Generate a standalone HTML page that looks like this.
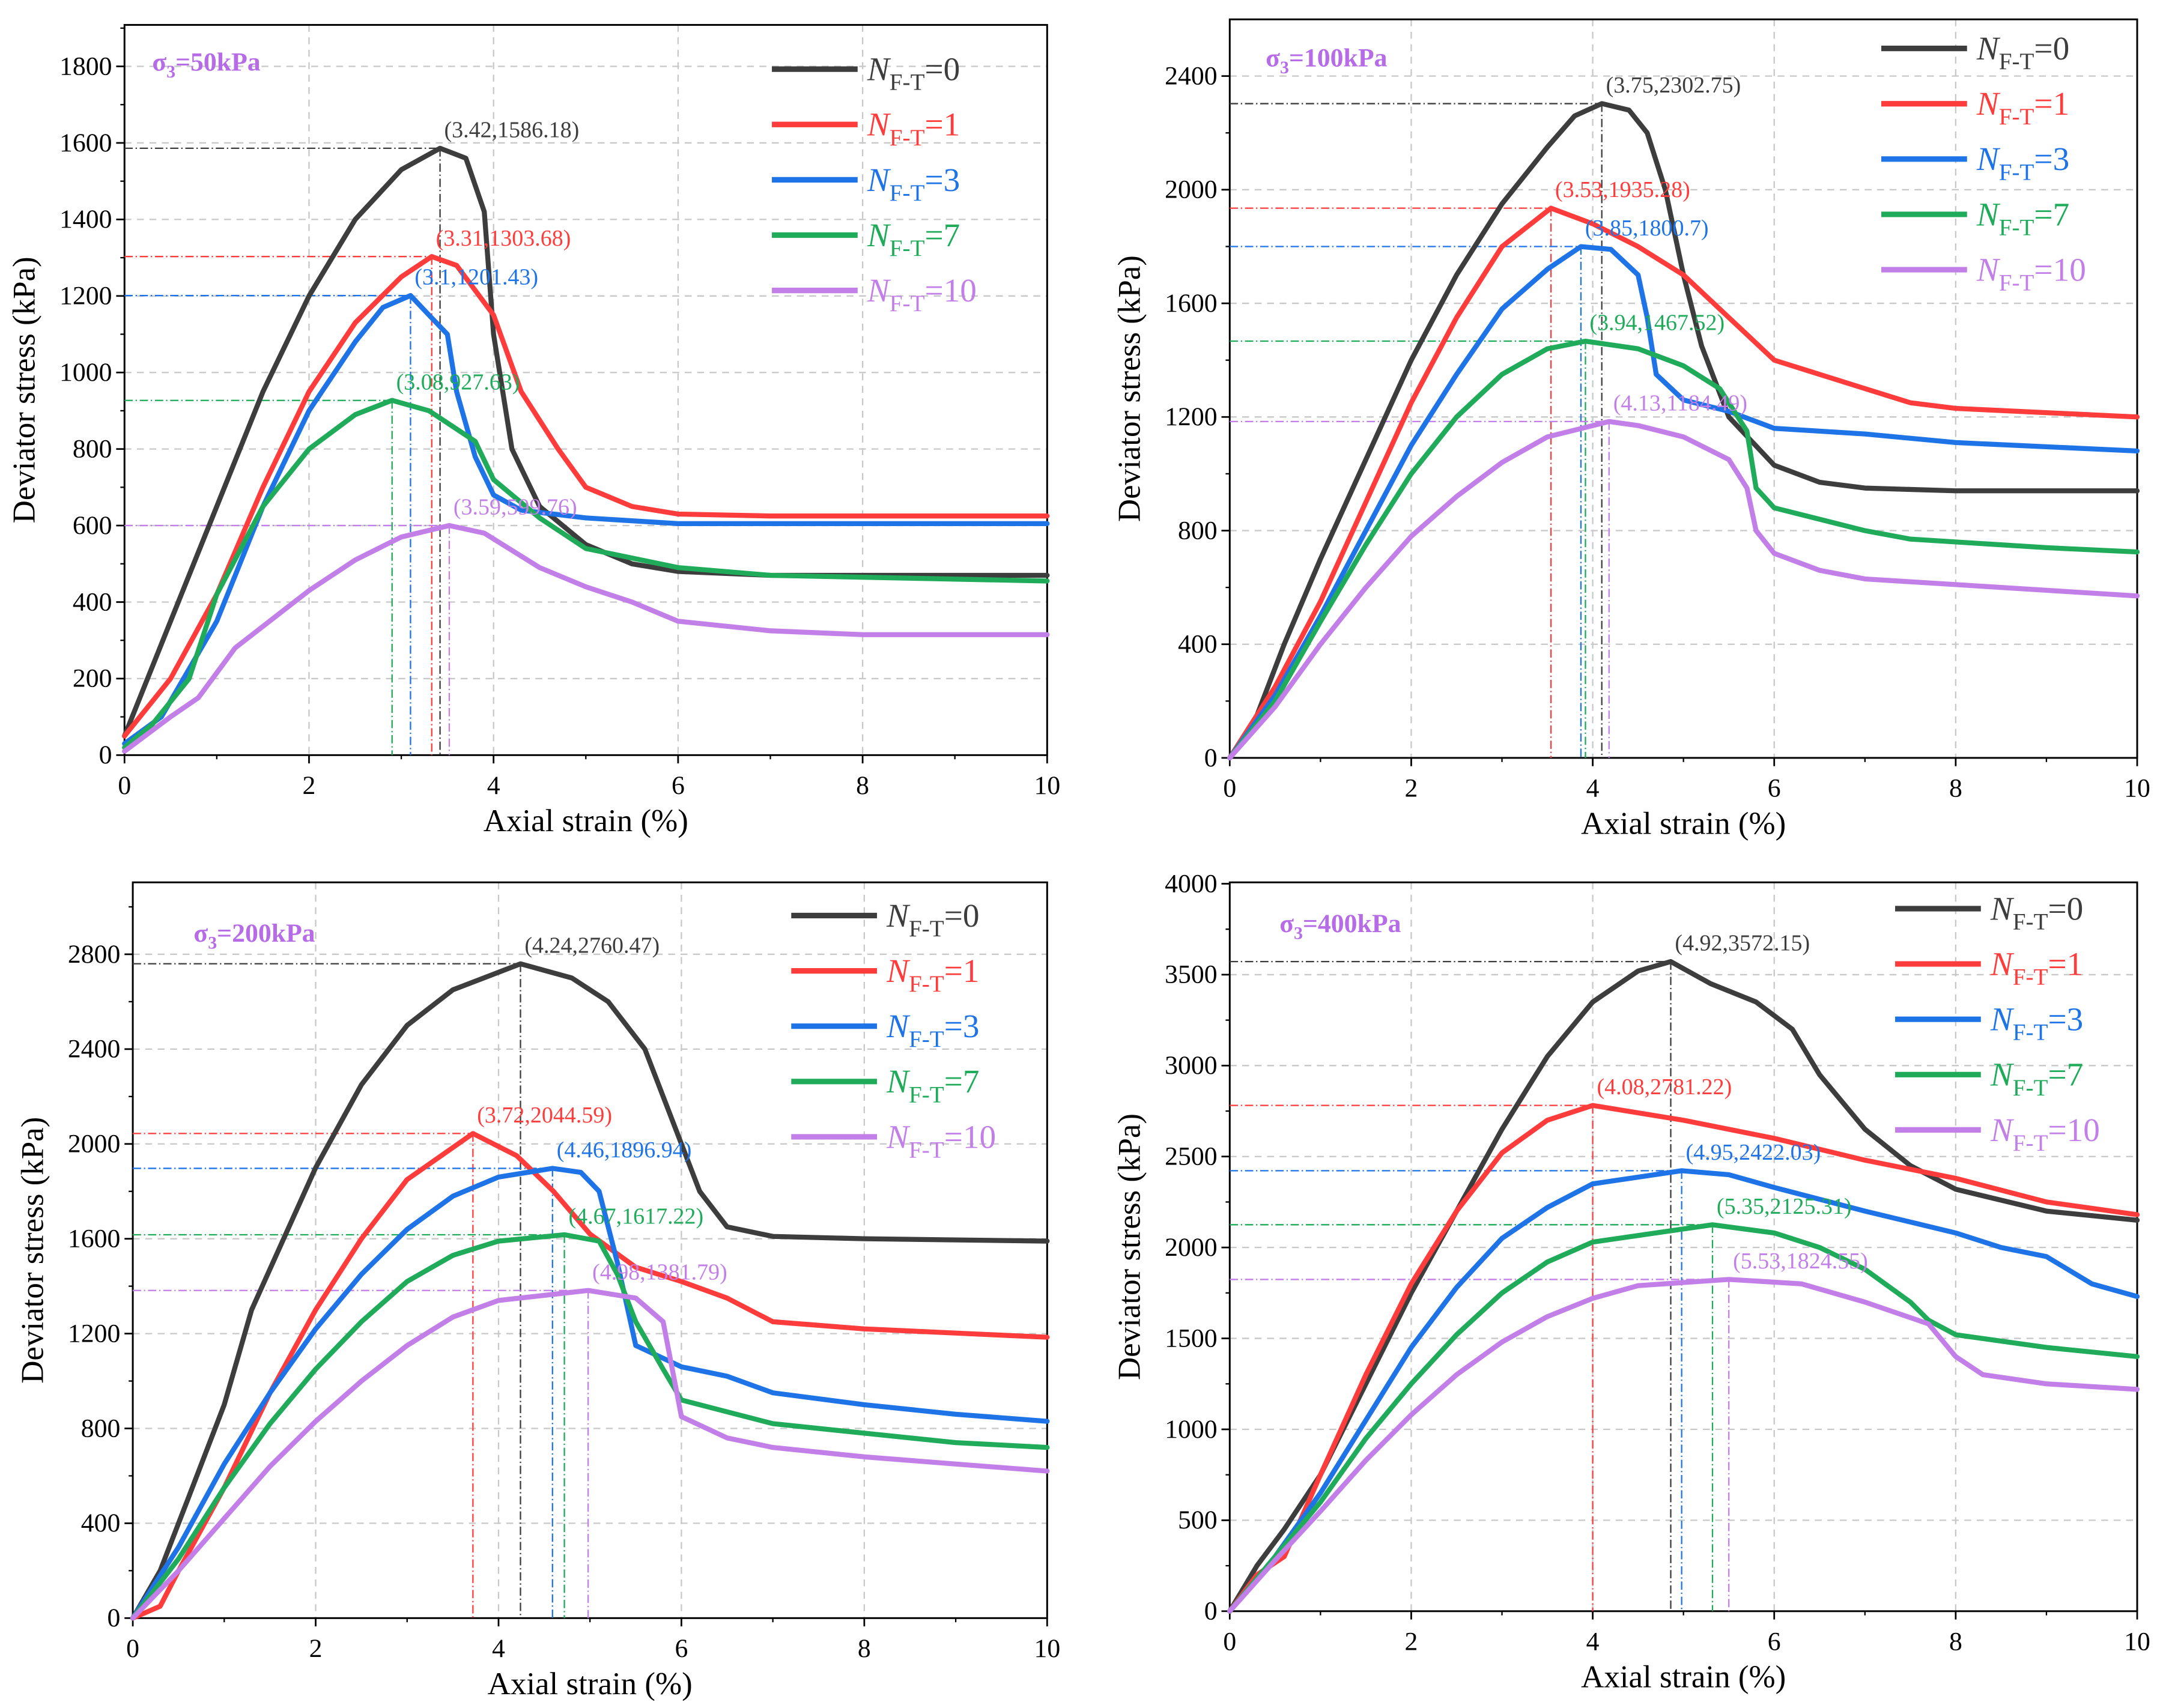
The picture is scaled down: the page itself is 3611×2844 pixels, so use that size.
<!DOCTYPE html>
<html><head><meta charset="utf-8">
<style>
html,body{margin:0;padding:0;background:#fff;}
svg{display:block;font-family:"Liberation Serif",serif;}
</style></head>
<body>
<svg id="chart" width="3611" height="2844" viewBox="0 0 1568 1235" preserveAspectRatio="none" xmlns="http://www.w3.org/2000/svg"></svg>
<script>
// ---- data (strain %, deviator stress kPa) ----
const seriesNames = ["0","1","3","7","10"];
const seriesColors = ["#3d3d3d","#ff3c3c","#1e74e6","#1fab5a","#c27fe8"];

const p1n0 = [[0,50],[0.5,350],[1,650],[1.5,950],[2,1200],[2.5,1400],[3,1530],[3.42,1586],[3.7,1560],[3.9,1420],[4.0,1100],[4.2,800],[4.5,650],[5,550],[5.5,500],[6,480],[7,470],[8,470],[10,470]];
const p1n1 = [[0,50],[0.5,200],[1,420],[1.5,700],[2,950],[2.5,1130],[3,1250],[3.33,1303],[3.6,1280],[4,1150],[4.3,950],[4.7,800],[5,700],[5.5,650],[6,630],[7,625],[10,625]];
const p1n3 = [[0,30],[0.4,100],[1,350],[1.5,650],[2,900],[2.5,1080],[2.8,1170],[3.1,1201],[3.3,1150],[3.5,1100],[3.6,950],[3.8,780],[4,680],[4.3,640],[5,620],[6,605],[10,605]];
const p1n7 = [[0,20],[0.3,80],[0.7,200],[1,420],[1.5,650],[2,800],[2.5,890],[2.9,927],[3.3,900],[3.8,820],[4,720],[4.5,620],[5,540],[6,490],[7,470],[10,455]];
const p1n10 = [[0,10],[0.5,100],[0.8,150],[1.2,280],[2,430],[2.5,510],[3,570],[3.52,600],[3.9,580],[4.5,490],[5,440],[5.5,400],[6,350],[7,325],[8,315],[10,315]];

const p2n0 = [[0,0],[0.3,150],[0.6,400],[1,700],[1.5,1050],[2,1400],[2.5,1700],[3,1950],[3.5,2150],[3.8,2260],[4.1,2303],[4.4,2280],[4.6,2200],[4.8,2000],[5,1700],[5.2,1450],[5.5,1200],[6,1030],[6.5,970],[7,950],[8,940],[10,940]];
const p2n1 = [[0,0],[0.5,250],[1,550],[1.5,900],[2,1250],[2.5,1550],[3,1800],[3.54,1935],[4,1880],[4.5,1800],[5,1700],[5.5,1550],[6,1400],[6.5,1350],[7,1300],[7.5,1250],[8,1230],[10,1200]];
const p2n3 = [[0,0],[0.5,220],[1,500],[1.5,800],[2,1100],[2.5,1350],[3,1580],[3.5,1720],[3.87,1800],[4.2,1790],[4.5,1700],[4.6,1550],[4.7,1350],[5,1260],[5.5,1220],[6,1160],[7,1140],[8,1110],[10,1080]];
const p2n7 = [[0,0],[0.5,200],[1,480],[1.5,750],[2,1000],[2.5,1200],[3,1350],[3.5,1440],[3.92,1467],[4.5,1440],[5,1380],[5.4,1300],[5.7,1150],[5.8,950],[6,880],[7,800],[7.5,770],[9,740],[10,725]];
const p2n10 = [[0,0],[0.5,180],[1,400],[1.5,600],[2,780],[2.5,920],[3,1040],[3.5,1130],[4.18,1184],[4.5,1170],[5,1130],[5.5,1050],[5.7,950],[5.8,800],[6,720],[6.5,660],[7,630],[8,610],[9,590],[10,570]];

const p3n0 = [[0,0],[0.3,200],[0.6,500],[1,900],[1.3,1300],[2,1900],[2.5,2250],[3,2500],[3.5,2650],[4.24,2760],[4.8,2700],[5.2,2600],[5.6,2400],[5.9,2100],[6.2,1800],[6.5,1650],[7,1610],[8,1600],[10,1590]];
const p3n1 = [[0,0],[0.3,50],[0.5,200],[1,550],[1.5,950],[2,1300],[2.5,1600],[3,1850],[3.72,2044],[4.2,1950],[4.6,1800],[5,1620],[5.5,1480],[6,1420],[6.5,1350],[7,1250],[8,1220],[10,1185]];
const p3n3 = [[0,0],[0.5,300],[1,650],[1.5,950],[2,1220],[2.5,1450],[3,1640],[3.5,1780],[4,1860],[4.59,1897],[4.9,1880],[5.1,1800],[5.3,1500],[5.5,1150],[6,1060],[6.5,1020],[7,950],[8,900],[9,860],[10,830]];
const p3n7 = [[0,0],[0.5,250],[1,550],[1.5,820],[2,1050],[2.5,1250],[3,1420],[3.5,1530],[4,1590],[4.72,1617],[5.1,1590],[5.3,1450],[5.5,1250],[5.8,1050],[6,920],[7,820],[8,780],[9,740],[10,720]];
const p3n10 = [[0,0],[0.5,200],[1,420],[1.5,640],[2,830],[2.5,1000],[3,1150],[3.5,1270],[4,1340],[4.98,1382],[5.5,1350],[5.8,1250],[6,850],[6.5,760],[7,720],[8,680],[9,650],[10,620]];

const p4n0 = [[0,0],[0.3,250],[0.6,450],[1,750],[1.5,1250],[2,1750],[2.5,2200],[3,2650],[3.5,3050],[4,3350],[4.5,3520],[4.86,3572],[5.3,3450],[5.8,3350],[6.2,3200],[6.5,2950],[7,2650],[7.5,2450],[8,2320],[9,2200],[10,2150]];
const p4n1 = [[0,0],[0.3,200],[0.6,300],[1,750],[1.5,1300],[2,1800],[2.5,2200],[3,2520],[3.5,2700],[4.0,2781],[5,2700],[6,2600],[7,2480],[8,2380],[9,2250],[10,2180]];
const p4n3 = [[0,0],[0.5,300],[1,650],[1.5,1050],[2,1450],[2.5,1780],[3,2050],[3.5,2220],[4,2350],[4.98,2422],[5.5,2400],[6,2330],[7,2200],[8,2080],[8.5,2000],[9,1950],[9.5,1800],[10,1730]];
const p4n7 = [[0,0],[0.5,300],[1,600],[1.5,950],[2,1250],[2.5,1520],[3,1750],[3.5,1920],[4,2030],[5.32,2125],[6,2080],[6.5,2000],[7,1880],[7.5,1700],[7.7,1600],[8,1520],[9,1450],[10,1400]];
const p4n10 = [[0,0],[0.5,280],[1,550],[1.5,830],[2,1080],[2.5,1300],[3,1480],[3.5,1620],[4,1720],[4.5,1790],[5.5,1824],[6.3,1800],[7,1700],[7.7,1580],[8,1400],[8.3,1300],[9,1250],[10,1220]];

const p1Labels = ["(3.42,1586.18)","(3.31,1303.68)","(3.1,1201.43)","(3.08,927.63)","(3.59,599.76)"];
const p2Labels = ["(3.75,2302.75)","(3.53,1935.28)","(3.85,1800.7)","(3.94,1467.52)","(4.13,1184.49)"];
const p3Labels = ["(4.24,2760.47)","(3.72,2044.59)","(4.46,1896.94)","(4.67,1617.22)","(4.98,1381.79)"];
const p4Labels = ["(4.92,3572.15)","(4.08,2781.22)","(4.95,2422.03)","(5.35,2125.31)","(5.53,1824.55)"];

const xTicks = [0,2,4,6,8,10];
const p1YTicks = [0,200,400,600,800,1000,1200,1400,1600,1800];
const p2YTicks = [0,400,800,1200,1600,2000,2400];
const p3YTicks = [0,400,800,1200,1600,2000,2400,2800];
const p4YTicks = [0,500,1000,1500,2000,2500,3000,3500,4000];
const panelTitles = ["50kPa","100kPa","200kPa","400kPa"];

// ---- layout ----
const panels = [
  {series:[p1n0,p1n1,p1n3,p1n7,p1n10], labels:p1Labels, yTicks:p1YTicks, yMax:1800, L:90, R:757, T:18, B:546, y0px:546, yTopVal:1800, yTopPx:48, title:[110,51], legend:[558,50]},
  {series:[p2n0,p2n1,p2n3,p2n7,p2n10], labels:p2Labels, yTicks:p2YTicks, L:889, R:1545, T:14, B:548, y0px:548, yTopVal:2400, yTopPx:55, title:[915,48], legend:[1360,35]},
  {series:[p3n0,p3n1,p3n3,p3n7,p3n10], labels:p3Labels, yTicks:p3YTicks, L:96, R:757, T:638, B:1170, y0px:1170, yTopVal:2800, yTopPx:690, title:[140,681], legend:[572,662]},
  {series:[p4n0,p4n1,p4n3,p4n7,p4n10], labels:p4Labels, yTicks:p4YTicks, L:889, R:1545, T:638, B:1165, y0px:1165, yTopVal:4000, yTopPx:639, title:[925,674], legend:[1370,657]}
];

const svg = document.getElementById('chart');
const NS = "http://www.w3.org/2000/svg";
function mk(tag, attrs, parent){
  const e = document.createElementNS(NS, tag);
  for (const k in attrs) e.setAttribute(k, attrs[k]);
  (parent||svg).appendChild(e);
  return e;
}

panels.forEach((p, pi) => {
  const g = mk('g', {});
  
  
  const xS = v => p.L + (p.R - p.L) * v / 10;
  const yS = v => p.y0px - (p.y0px - p.yTopPx) * v / p.yTopVal;

  // grid
  xTicks.forEach(t => {
    if (t > 0 && t < 10) {
      const l = mk('line', {x1:xS(t), x2:xS(t), y1:p.T, y2:p.B, stroke:'#c8c8c8', 'stroke-width':1, 'stroke-dasharray':'5,4'}, g);
      
      
    }
  });
  p.yTicks.forEach(t => {
    const y = yS(t);
    if (t > 0 && y > p.T + 2) {
      const l = mk('line', {x1:p.L, x2:p.R, y1:y, y2:y, stroke:'#c8c8c8', 'stroke-width':1, 'stroke-dasharray':'5,4'}, g);
      
      
    }
  });

  // frame
  const fr = mk('rect', {x:p.L, y:p.T, width:p.R-p.L, height:p.B-p.T, fill:'none', stroke:'#000', 'stroke-width':1.3}, g);
  
  

  // ticks & labels
  xTicks.forEach(t => {
    const x = xS(t);
    mk('line', {x1:x, x2:x, y1:p.B, y2:p.B+6, stroke:'#000', 'stroke-width':1.2}, g);
    const mx = xS(t+1);
    if (t < 10) mk('line', {x1:mx, x2:mx, y1:p.B, y2:p.B+3, stroke:'#000', 'stroke-width':1}, g);
    const tx = mk('text', {x:x, y:p.B+28, 'font-size':19, 'text-anchor':'middle', fill:'#000'}, g);
    tx.textContent = t;
    
    
  });
  const step = p.yTicks[1] - p.yTicks[0];
  p.yTicks.forEach(t => {
    const y = yS(t);
    mk('line', {x1:p.L-6, x2:p.L, y1:y, y2:y, stroke:'#000', 'stroke-width':1.2}, g);
    const my = yS(t + step/2);
    if (my > p.T) mk('line', {x1:p.L-3, x2:p.L, y1:my, y2:my, stroke:'#000', 'stroke-width':1}, g);
    const ty = mk('text', {x:p.L-9, y:y+6, 'font-size':19, 'text-anchor':'end', fill:'#000'}, g);
    ty.textContent = t;
    
    
  });

  // axis titles
  const xt = mk('text', {x:(p.L+p.R)/2, y:p.B+55, 'font-size':23, 'text-anchor':'middle', fill:'#000'}, g);
  xt.textContent = 'Axial strain (%)';
  
  
  const yc = (p.T + p.B)/2;
  const ax = p.L - 65;
  const yt = mk('text', {x:ax, y:yc, 'font-size':23, 'text-anchor':'middle', fill:'#000', transform:`rotate(-90 ${ax} ${yc})`}, g);
  yt.textContent = 'Deviator stress (kPa)';
  
  

  // panel title
  const tt = mk('text', {x:p.title[0], y:p.title[1], 'font-size':19, 'font-weight':'bold', fill:'#b56ce6'}, g);
  
  
  const a = mk('tspan', {}, tt); a.textContent = 'σ';
  const b = mk('tspan', {dy:5, 'font-size':13}, tt); b.textContent = '3';
  const c = mk('tspan', {dy:-5}, tt); c.textContent = '=' + panelTitles[pi];

  // reference lines (peaks)
  p.series.forEach((s, si) => {
    let pk = s[0];
    s.forEach(pt => { if (pt[1] > pk[1]) pk = pt; });
    const px = xS(pk[0]), py = yS(pk[1]);
    const h = mk('line', {x1:p.L, x2:px, y1:py, y2:py, stroke:seriesColors[si], 'stroke-width':1, 'stroke-dasharray':'6,2,1,2'}, g);
    
    
    const v = mk('line', {x1:px, x2:px, y1:py, y2:p.B, stroke:seriesColors[si], 'stroke-width':1, 'stroke-dasharray':'6,2,1,2'}, g);
    
    
  });

  // curves
  p.series.forEach((s, si) => {
    const pl = mk('polyline', {points:s.map(pt => xS(pt[0]).toFixed(1)+','+yS(pt[1]).toFixed(1)).join(' '), fill:'none', stroke:seriesColors[si], 'stroke-width':3.6, 'stroke-linejoin':'round', 'stroke-linecap':'round'}, g);
    
    
  });

  // peak labels
  p.series.forEach((s, si) => {
    let pk = s[0];
    s.forEach(pt => { if (pt[1] > pk[1]) pk = pt; });
    const lb = mk('text', {x:xS(pk[0])+3, y:yS(pk[1])-8, 'font-size':16.5, fill:seriesColors[si]}, g);
    lb.textContent = p.labels[si];
    
    
  });

  // legend
  seriesNames.forEach((n, si) => {
    const lx = p.legend[0], ly = p.legend[1] + si*40;
    const ln = mk('line', {x1:lx, x2:lx+62, y1:ly, y2:ly, stroke:seriesColors[si], 'stroke-width':4}, g);
    
    
    const t = mk('text', {x:lx+69, y:ly+8, 'font-size':24, fill:seriesColors[si]}, g);
    
    
    const t1 = mk('tspan', {'font-style':'italic'}, t); t1.textContent = 'N';
    const t2 = mk('tspan', {dy:7, 'font-size':17}, t); t2.textContent = 'F-T';
    const t3 = mk('tspan', {dy:-7}, t); t3.textContent = '=' + n;
  });
});
</script>
</body></html>
